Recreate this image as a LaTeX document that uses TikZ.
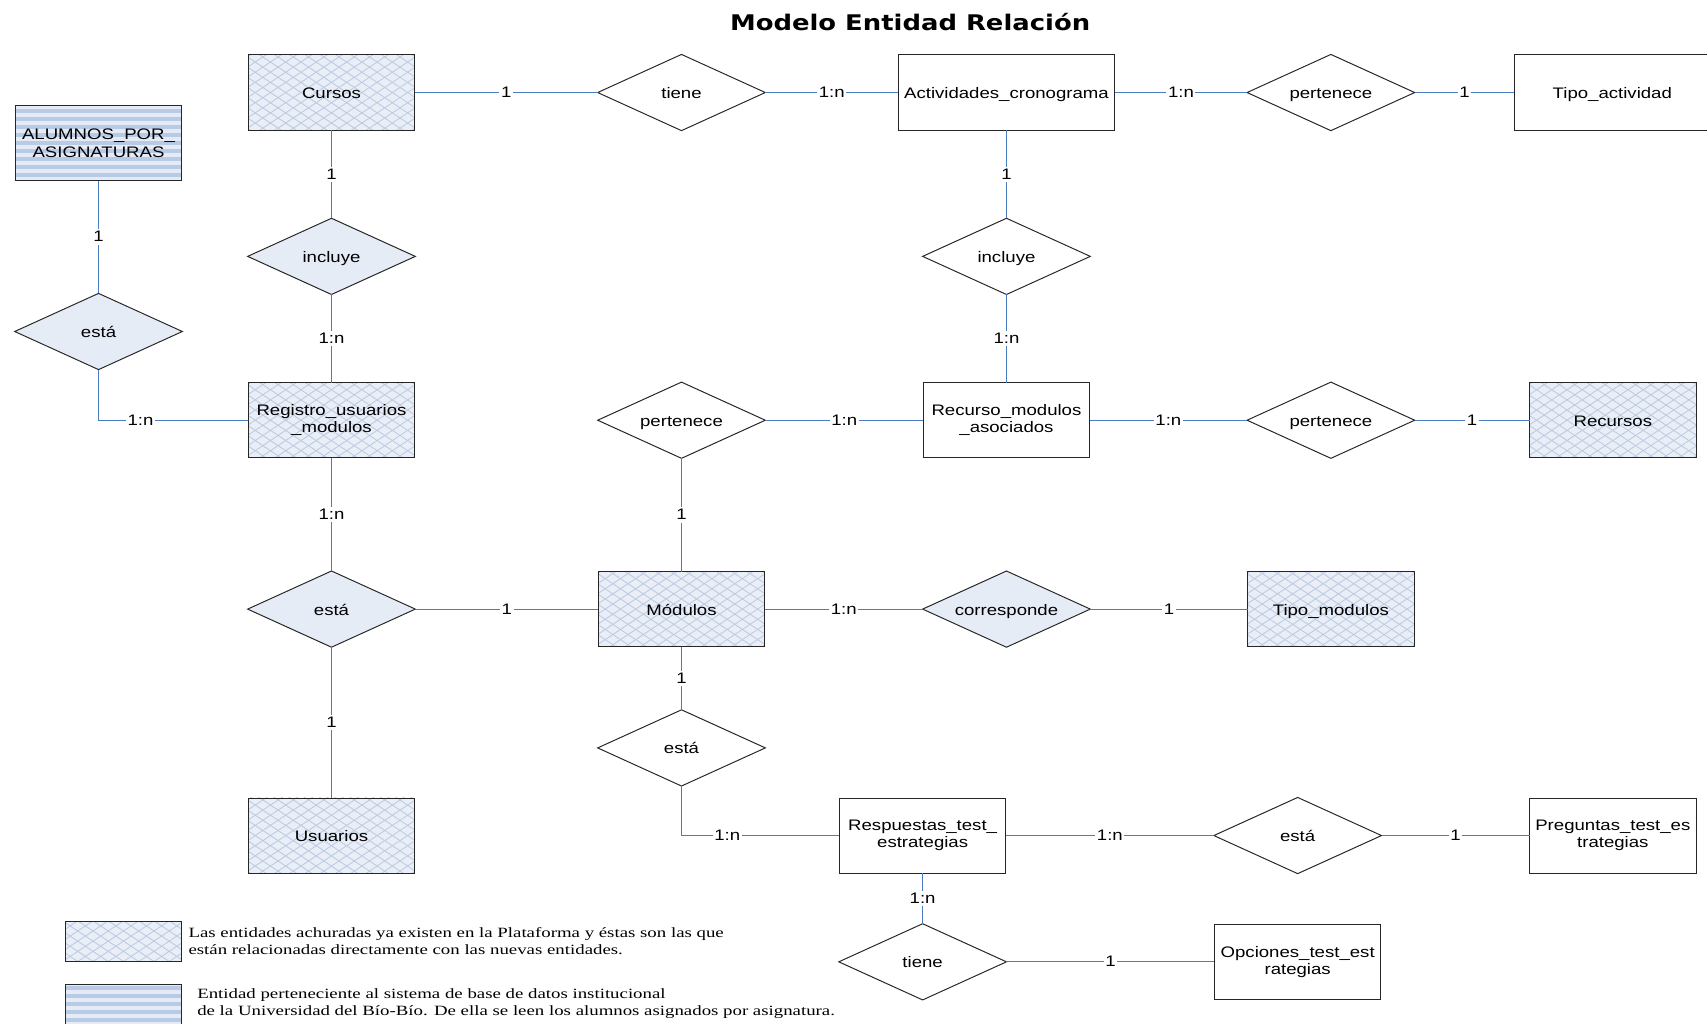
\documentclass[tikz,border=0pt]{standalone}
\usepackage{fontspec}
\setmainfont{Liberation Sans}[FakeStretch=1.22]
\newfontfamily\legendfont{Liberation Serif}[FakeStretch=1.33]
\newfontfamily\titlefont{DejaVu Sans}[FakeStretch=1.2]
\usetikzlibrary{shapes.geometric}
\definecolor{hatchbg}{HTML}{E9EEF7}
\definecolor{hatchln}{HTML}{BDCBE3}
\definecolor{stripelt}{HTML}{E4EBF6}
\definecolor{stripedk}{HTML}{B9CAE5}
\definecolor{relfill}{HTML}{E6ECF6}
\definecolor{linkc}{HTML}{4A7CC0}
\begin{document}
\begin{tikzpicture}[x=1pt,y=-1pt,
  every node/.style={font=\fontsize{14}{16}\selectfont},
  oneline/.style={text height=12pt, text depth=1pt},
  ent/.style={rectangle, draw=black!85, line width=0.9pt, fill=white,
    minimum width=153pt, minimum height=69pt, align=center,
    inner sep=2pt, outer sep=0pt},
  hatched/.style={fill=hatchbg, path picture={
    \foreach \k in {-14,...,14}{
      \draw[hatchln, line width=0.8pt]
        ([xshift=\k*14pt-80pt, yshift=-53.3pt]path picture bounding box.center) -- ++(160pt,106.7pt);
      \draw[hatchln, line width=0.8pt]
        ([xshift=\k*14pt-80pt, yshift=53.3pt]path picture bounding box.center) -- ++(160pt,-106.7pt);
    }}},
  striped/.style={fill=stripelt, path picture={
    \foreach \k in {-8,...,8}{
      \fill[stripedk]
        ([xshift=-100pt, yshift=\k*7.4pt-1.9pt]path picture bounding box.center) rectangle ++(200pt,3.8pt);
    }}},
  rel/.style={diamond, aspect=2.2, draw=black!85, line width=0.9pt, fill=white,
    minimum width=154pt, minimum height=70pt, inner sep=0pt, outer sep=0pt, oneline},
  relfilled/.style={rel, fill=relfill},
  link/.style={draw=linkc, line width=0.9pt},
  lbl/.style={fill=white, inner sep=1.5pt, text height=10pt, text depth=1pt},
  legtext/.style={anchor=west, align=left, inner sep=0pt,
    font=\legendfont\fontsize{13}{15.5}\selectfont}
]
\useasboundingbox (0,0) rectangle (1568,940);

% title
\node[font=\titlefont\bfseries\fontsize{19.8}{22}\selectfont] (title) at (836,20) {Modelo Entidad Relación};

% entities
\node[ent, hatched, oneline] (cursos) at (304.5,85) {Cursos};
\node[ent, striped] (alumnos) at (90.5,131.5) {ALUMNOS\_POR\_\\ASIGNATURAS};
\node[ent, oneline, minimum width=199pt] (activ) at (924.5,85) {Actividades\_cronograma};
\node[ent, oneline, minimum width=180pt] (tipoact) at (1481,85) {Tipo\_actividad};
\node[ent, hatched] (registro) at (304.5,386) {Registro\_usuarios\\\_modulos};
\node[ent] (recmod) at (924.5,386) {Recurso\_modulos\\\_asociados};
\node[ent, hatched, oneline] (recursos) at (1481.5,386) {Recursos};
\node[ent, hatched, oneline] (modulos) at (626,559.5) {Módulos};
\node[ent, hatched, oneline] (tipomod) at (1222.5,559.5) {Tipo\_modulos};
\node[ent, hatched, oneline] (usuarios) at (304.5,767.5) {Usuarios};
\node[ent] (resp) at (847.5,767.5) {Respuestas\_test\_\\estrategias};
\node[ent] (preg) at (1481.5,767.5) {Preguntas\_test\_es\\trategias};
\node[ent] (opciones) at (1192,883.5) {Opciones\_test\_est\\rategias};

% relationships
\node[rel] (tiene1) at (626,85) {tiene};
\node[rel] (pert1) at (1222.5,85) {pertenece};
\node[relfilled] (incl1) at (304.5,235.5) {incluye};
\node[rel] (incl2) at (924.5,235.5) {incluye};
\node[relfilled] (esta1) at (90.5,304.5) {está};
\node[rel] (pert2) at (626,386) {pertenece};
\node[rel] (pert3) at (1222.5,386) {pertenece};
\node[relfilled] (esta2) at (304.5,559.5) {está};
\node[relfilled] (corresp) at (924.5,559.5) {corresponde};
\node[rel] (esta3) at (626,687) {está};
\node[rel] (esta4) at (1192,767.5) {está};
\node[rel] (tiene2) at (847.5,883.5) {tiene};

% connectors with cardinalities
\draw[link] (cursos) -- node[lbl] (c1) {1} (tiene1);
\draw[link] (tiene1) -- node[lbl] (c2) {1:n} (activ);
\draw[link] (activ) -- node[lbl] (c3) {1:n} (pert1);
\draw[link] (pert1) -- node[lbl] (c4) {1} (tipoact);
\draw[link] (cursos) -- node[lbl] (c5) {1} (incl1);
\draw[link] (incl1) -- node[lbl] (c6) {1:n} (registro);
\draw[link] (activ) -- node[lbl] (c7) {1} (incl2);
\draw[link] (incl2) -- node[lbl] (c8) {1:n} (recmod);
\draw[link] (alumnos) -- node[lbl] (c9) {1} (esta1);
\draw[link] (esta1.south) |- node[lbl, pos=0.64] (c10) {1:n} (registro.west);
\draw[link] (pert2) -- node[lbl] (c11) {1:n} (recmod);
\draw[link] (recmod) -- node[lbl] (c12) {1:n} (pert3);
\draw[link] (pert3) -- node[lbl] (c13) {1} (recursos);
\draw[link] (pert2) -- node[lbl] (c14) {1} (modulos);
\draw[link] (registro) -- node[lbl] (c15) {1:n} (esta2);
\draw[link] (esta2) -- node[lbl] (c16) {1} (modulos);
\draw[link] (modulos) -- node[lbl] (c17) {1:n} (corresp);
\draw[link] (corresp) -- node[lbl] (c18) {1} (tipomod);
\draw[link] (modulos) -- node[lbl] (c19) {1} (esta3);
\draw[link] (esta2) -- node[lbl] (c20) {1} (usuarios);
\draw[link] (esta3.south) |- node[lbl, pos=0.645] (c21) {1:n} (resp.west);
\draw[link] (resp) -- node[lbl] (c22) {1:n} (esta4);
\draw[link] (esta4) -- node[lbl] (c23) {1} (preg);
\draw[link] (resp) -- node[lbl] (c24) {1:n} (tiene2);
\draw[link] (tiene2) -- node[lbl] (c25) {1} (opciones);

% legend
\node[ent, hatched, minimum width=107pt, minimum height=37pt] (leg1) at (113.5,864.5) {};
\node[legtext] (legt1) at (173,864.5) {Las entidades achuradas ya existen en la Plataforma y éstas son las que\\están relacionadas directamente con las nuevas entidades.};
\node[ent, striped, minimum width=107pt, minimum height=37pt] (leg2) at (113.5,922.5) {};
\node[legtext] (legt2) at (181,922) {Entidad perteneciente al sistema de base de datos institucional\\de la Universidad del Bío-Bío. De ella se leen los alumnos asignados por asignatura.};
\end{tikzpicture}
\end{document}
